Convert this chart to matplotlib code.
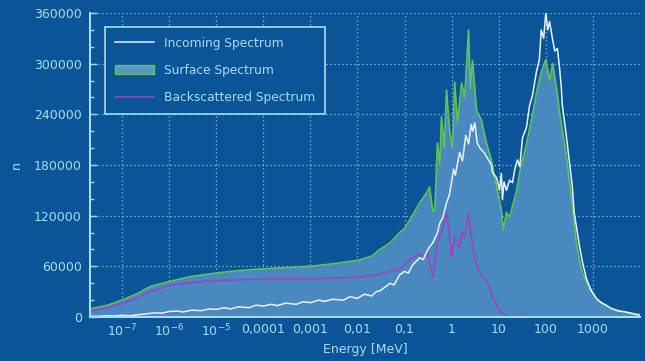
import matplotlib
matplotlib.use("Agg")
import matplotlib.pyplot as plt
from matplotlib.patches import Patch
from matplotlib.lines import Line2D
from matplotlib.ticker import FixedLocator, FixedFormatter, MultipleLocator, LogLocator, NullFormatter

# ---------------- data ----------------
surface_E = [2.1e-8, 5e-8, 1e-7, 2e-7, 4e-7, 1e-6, 3e-6, 1e-5, 3e-5, 1e-4, 3e-4, 1e-3,
             3e-3, 0.01, 0.02, 0.03, 0.05, 0.079, 0.1, 0.13, 0.21, 0.3, 0.34, 0.4, 0.44,
             0.5, 0.56, 0.61, 0.7, 0.78, 0.91, 1.05, 1.16, 1.34, 1.63, 1.89, 2.29, 2.5,
             2.78, 3.38, 4.3, 5.5, 7.0, 9.0, 11.4, 12.5, 14.6, 17, 24, 28, 39, 52, 63,
             80, 100, 120, 140, 176, 195, 272, 365, 440, 515, 600, 760, 840, 1240, 2450,
             5360, 8700, 9600]
surface_n = [9500, 14000, 20000, 27000, 36000, 42000, 48000, 52000, 55000, 57000, 58500, 60000,
             63000, 67000, 72000, 80000, 88000, 100000, 105000, 115000, 135000, 148000, 154000, 125000, 127000,
             206000, 180000, 237000, 200000, 269000, 220000, 200000, 278000, 230000, 277000, 260000, 340000, 270000,
             304000, 245000, 233000, 206000, 186000, 154000, 127000, 103000, 124000, 118000, 150000, 172000, 205000, 239000, 265000,
             290000, 305000, 280000, 300000, 265000, 243000, 192000, 133000, 90000, 68000, 52000, 40000, 36000, 20000, 10000,
             5000, 3500, 3000]

incoming_E = [2.1e-8, 3e-8, 5e-8, 7e-8, 1e-7, 1.5e-7, 2e-7, 3e-7, 5e-7, 7e-7, 1e-6, 1.5e-6,
              2e-6, 3e-6, 5e-6, 7e-6, 1e-5, 1.5e-5, 2e-5, 3e-5, 5e-5, 7e-5, 1e-4, 1.5e-4,
              2e-4, 3e-4, 5e-4, 7e-4, 1e-3, 1.5e-3, 2e-3, 3e-3, 5e-3, 7e-3, 0.01, 0.014,
              0.02, 0.025, 0.03, 0.04, 0.05, 0.06, 0.079, 0.1, 0.12, 0.15, 0.21, 0.25, 0.3,
              0.34, 0.4, 0.5, 0.56, 0.65, 0.78, 0.9, 1.0, 1.1, 1.2, 1.48, 1.7, 2.0, 2.3, 2.6,
              2.8, 3.1, 3.5, 4.0, 5.0, 5.5, 7.0, 7.4, 9.0, 10.4, 11.4, 12, 13, 14.6, 17, 19.6,
              22, 25, 28, 32, 39, 45, 52, 63, 73, 80, 90, 100, 110, 120, 138, 155, 176, 195,
              214, 224, 272, 316, 365, 400, 515, 600, 724, 900, 1180, 1500, 1900, 2500, 3500,
              5000, 7000, 9600]
incoming_n = [1000, 800, 1500, 1200, 2000, 1500, 2500, 3500, 5000, 4500, 6500, 7000,
              6000, 8000, 7500, 9500, 9000, 11000, 9500, 12000, 11000, 14000, 13000, 15000,
              13500, 16500, 15000, 18000, 17000, 20000, 18500, 21000, 20000, 24000, 22000, 27000,
              25000, 30000, 31000, 36000, 40000, 38000, 50000, 54000, 52000, 62000, 70000, 68000, 78000,
              83000, 88000, 100000, 111000, 118000, 135000, 145000, 160000, 175000, 168000, 195000, 185000, 215000, 205000, 228000,
              220000, 230000, 206000, 200000, 194000, 190000, 180000, 171000, 165000, 150000, 170000, 139000, 160000, 150000, 162000, 159000,
              175000, 186000, 178000, 212000, 225000, 250000, 262000, 290000, 305000, 340000, 330000, 360000, 340000, 350000, 330000, 315000, 318000, 296000,
              271000, 251000, 215000, 184000, 155000, 124000, 85000, 65000, 46000, 32000, 22000, 17000, 14000, 10000, 7000,
              6000, 4000, 2000]

back_E = [2.1e-8, 5e-8, 1e-7, 2e-7, 4e-7, 1e-6, 3e-6, 1e-5, 3e-5, 1e-4, 1e-3, 3e-3,
          0.01, 0.02, 0.03, 0.05, 0.079, 0.1, 0.13, 0.16, 0.21, 0.26, 0.3, 0.35, 0.4,
          0.5, 0.6, 0.78, 0.9, 1.0, 1.16, 1.3, 1.48, 1.7, 1.89, 2.29, 2.5, 3.07, 3.9,
          5.5, 7.4, 10.4, 14.6, 20, 40]
back_n = [7000, 11000, 16000, 22000, 30000, 37000, 41000, 43000, 44000, 45000, 45500, 46000,
          47000, 49000, 51000, 54000, 56000, 62000, 67000, 72000, 75000, 70000, 79000, 60000, 47000,
          88000, 100000, 123000, 100000, 71000, 95000, 85000, 83000, 100000, 95000, 123000, 105000, 71000, 52000,
          44000, 24000, 8000, 1000, 500, 500]

x_ticks = [1e-7, 1e-6, 1e-5, 1e-4, 1e-3, 1e-2, 1e-1, 1, 10, 100, 1000]
x_tick_labels = [r"$10^{-7}$", r"$10^{-6}$", r"$10^{-5}$", "0,0001", "0,001", "0,01", "0,1",
                 "1", "10", "100", "1000"]
y_ticks = [0, 60000, 120000, 180000, 240000, 300000, 360000]
y_tick_labels = ["0", "60000", "120000", "180000", "240000", "300000", "360000"]
series_labels = ["Incoming Spectrum", "Surface Spectrum", "Backscattered Spectrum"]

# ---------------- styling ----------------
BG = "#0a5598"
FILL = "#4a88c0"
GREEN = "#62c25a"
WHITE = "#e6f2fb"
PURPLE = "#9b45c4"
TXT = "#a9dcf3"
SPINE = "#a6dcf2"

plt.rcParams["font.family"] = ["DejaVu Sans"]
plt.rcParams["mathtext.fontset"] = "dejavusans"

fig = plt.figure(figsize=(6.45, 3.61), dpi=100, facecolor=BG)
ax = fig.add_axes([90 / 645, 1 - 317 / 361, 550 / 645, 304 / 361])
ax.set_facecolor(BG)

ax.set_xscale("log")
ax.set_xlim(2.1e-8, 1e4)
ax.set_ylim(0, 360000)

ax.fill_between(surface_E, surface_n, 0, color=FILL, lw=0, zorder=2)
ax.plot(surface_E, surface_n, color=GREEN, lw=1.2, zorder=3)
ax.plot(back_E, back_n, color=PURPLE, lw=1.2, zorder=4)
ax.plot(incoming_E, incoming_n, color=WHITE, lw=1.1, zorder=5)

# grid
ax.grid(True, which="major", color="#b8e2f5", linestyle=(0, (1, 2.2)), lw=0.9, alpha=0.75, zorder=1)

# ticks
ax.xaxis.set_major_locator(FixedLocator(x_ticks))
ax.xaxis.set_major_formatter(FixedFormatter(x_tick_labels))
ax.xaxis.set_minor_locator(LogLocator(base=10, subs=range(2, 10), numticks=30))
ax.xaxis.set_minor_formatter(NullFormatter())
ax.yaxis.set_major_locator(FixedLocator(y_ticks))
ax.yaxis.set_major_formatter(FixedFormatter(y_tick_labels))
ax.yaxis.set_minor_locator(MultipleLocator(20000))

ax.tick_params(axis="both", which="major", direction="in", length=5, width=1, color=SPINE,
               labelcolor=TXT, labelsize=9)
ax.tick_params(axis="both", which="minor", direction="in", length=3, width=1, color=SPINE)
ax.tick_params(axis="y", which="major", pad=6)
ax.tick_params(axis="x", which="major", pad=4)

for s in ["top", "right"]:
    ax.spines[s].set_visible(False)
for s in ["left", "bottom"]:
    ax.spines[s].set_color(SPINE)
    ax.spines[s].set_linewidth(1.5)
    ax.spines[s].set_zorder(6)

ax.set_xlabel("Energy [MeV]", color=TXT, fontsize=9, labelpad=3)
ax.set_ylabel("n", color=TXT, fontsize=9, labelpad=8)

handles = [Line2D([], [], color=WHITE, lw=1.1),
           Patch(facecolor="#5b98c0", edgecolor=GREEN, lw=1.0),
           Line2D([], [], color=PURPLE, lw=1.1)]
leg = ax.legend(handles, series_labels, loc="upper left", bbox_to_anchor=(0.027, 0.954),
                borderaxespad=0, fontsize=8.8, frameon=True, fancybox=False,
                facecolor=BG, edgecolor=SPINE, framealpha=1, labelspacing=1.15,
                handlelength=3.2, handletextpad=0.8, borderpad=0.8)
leg.get_frame().set_linewidth(1.2)
for t in leg.get_texts():
    t.set_color(TXT)
leg.set_zorder(10)

fig.savefig("out.png", dpi=100, facecolor=BG)
